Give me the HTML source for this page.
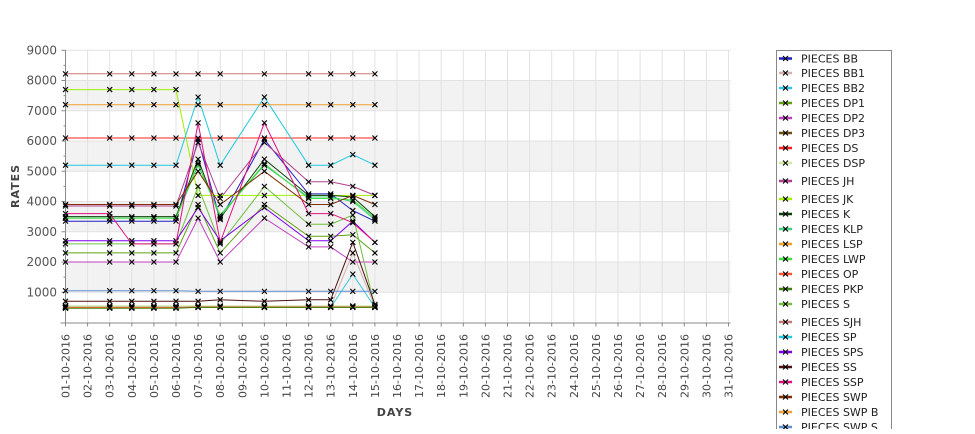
<!DOCTYPE html>
<html><head><meta charset="utf-8"><style>
body{margin:0;background:#fff;width:975px;height:429px;overflow:hidden;font-family:"Liberation Sans","DejaVu Sans",sans-serif}
svg text{font-family:"DejaVu Sans","Liberation Sans",sans-serif}
</style></head><body>
<svg id="chart" width="975" height="429" viewBox="0 0 975 429" xmlns="http://www.w3.org/2000/svg">
<g id="bands"></g><g id="grid"></g><g id="axes"></g><g id="series"></g><g id="legend"></g>
</svg>
<script>
const categories = ["01-10-2016","02-10-2016","03-10-2016","04-10-2016","05-10-2016","06-10-2016","07-10-2016","08-10-2016","09-10-2016","10-10-2016","11-10-2016","12-10-2016","13-10-2016","14-10-2016","15-10-2016","16-10-2016","17-10-2016","18-10-2016","19-10-2016","20-10-2016","21-10-2016","22-10-2016","23-10-2016","24-10-2016","25-10-2016","26-10-2016","27-10-2016","28-10-2016","29-10-2016","30-10-2016","31-10-2016"];
const pointDays = [0,2,3,4,5,6,7,9,11,12,13,14];
const yTicks = [1000,2000,3000,4000,5000,6000,7000,8000,9000];
const seriesNames = ["PIECES BB","PIECES BB1","PIECES BB2","PIECES DP1","PIECES DP2","PIECES DP3","PIECES DS","PIECES DSP","PIECES JH","PIECES JK","PIECES K","PIECES KLP","PIECES LSP","PIECES LWP","PIECES OP","PIECES PKP","PIECES S","PIECES SJH","PIECES SP","PIECES SPS","PIECES SS","PIECES SSP","PIECES SWP","PIECES SWP B","PIECES SWP S"];
const seriesColors = ["#2020c0","#d0b0b0","#30c8e0","#60a010","#c040c0","#705010","#ff2020","#d0e8a0","#b04090","#a0f000","#104010","#40d080","#f0a020","#40e040","#ff5030","#408010","#70c040","#c87878","#20c8e0","#8000f0","#501010","#e01080","#803000","#f0a030","#6090d0"];
const vBB  = [3350,3350,3350,3350,3350,6050,3400,6050,4250,4250,3700,3350];
const vBB1 = [520,520,520,520,520,520,520,520,520,520,2300,520];
const vBB2 = [500,500,500,500,500,500,500,500,500,500,1600,500];
const vDP1 = [2300,2300,2300,2300,2300,3900,2300,3900,2850,2850,2900,2300];
const vDP2 = [2000,2000,2000,2000,2000,3450,2000,3450,2500,2500,2000,2000];
const vDP3 = [480,480,480,480,480,520,520,520,520,520,520,520];
const vDS  = [6100,6100,6100,6100,6100,6100,6100,6100,6100,6100,6100,6100];
const vDSP = [550,550,550,550,550,550,550,550,550,550,550,550];
const vJH  = [3850,3850,3850,3850,3850,5950,4100,5950,4650,4650,4500,4200];
const vJK  = [7700,7700,7700,7700,7700,4200,4200,4200,4200,4200,4200,4200];
const vK   = [3500,3500,3500,3500,3500,5400,3450,5400,4200,4200,4150,3500];
const vKLP = [3450,3450,3450,3450,3450,5200,3550,5200,4150,4150,4000,3400];
const vLSP = [500,500,500,500,500,500,500,500,500,500,500,500];
const vLWP = [3450,3450,3450,3450,3450,5250,3500,5250,4100,4100,4050,3450];
const vOP  = [490,490,490,490,490,510,510,510,510,510,510,510];
const vPKP = [470,470,470,470,470,500,500,500,500,500,500,500];
const vS   = [2600,2600,2600,2600,2600,4500,2600,4500,3250,3250,3550,500];
const vSJH = [8220,8220,8220,8220,8220,8220,8220,8220,8220,8220,8220,8220];
const vSP  = [5200,5200,5200,5200,5200,7450,5200,7450,5200,5200,5550,5200];
const vSPS = [2700,2700,2700,2700,2700,3800,2700,3800,2700,2700,3350,2650];
const vSS  = [700,700,700,700,700,700,750,700,750,750,2650,600];
const vSSP = [3600,3600,2600,2600,2600,6600,2650,6600,3600,3600,3300,2650];
const vSWP = [3900,3900,3900,3900,3900,5000,3900,5000,3900,3900,4200,3900];
const vSWPB= [7200,7200,7200,7200,7200,7200,7200,7200,7200,7200,7200,7200];
const vSWPS= [1050,1050,1050,1050,1050,1030,1030,1030,1030,1030,1030,1030];
const seriesValues = [vBB,vBB1,vBB2,vDP1,vDP2,vDP3,vDS,vDSP,vJH,vJK,vK,vKLP,vLSP,vLWP,vOP,vPKP,vS,vSJH,vSP,vSPS,vSS,vSSP,vSWP,vSWPB,vSWPS];

const NS="http://www.w3.org/2000/svg";
const X0=65.5, DX=22.1, Y0=322.5, PER=30.25/1000;
const xs=i=>X0+i*DX, ys=v=>Y0-v*PER;
function mk(tag,parent,attrs){const e=document.createElementNS(NS,tag);for(const k in attrs)e.setAttribute(k,attrs[k]);parent.appendChild(e);return e;}
const bands=document.getElementById('bands'),grid=document.getElementById('grid'),axes=document.getElementById('axes'),ser=document.getElementById('series'),leg=document.getElementById('legend');
const right=xs(30)+2;
[[1000,2000],[3000,4000],[5000,6000],[7000,8000]].forEach(b=>{
  const r=mk('rect',bands,{x:X0,y:ys(b[1]),width:right-X0,height:ys(b[0])-ys(b[1]),fill:'#f2f2f2'});
  
  
});
categories.forEach((c,i)=>{
  const l=mk('line',grid,{x1:xs(i),x2:xs(i),y1:ys(9000),y2:Y0,stroke:'#e2e2e2','stroke-width':1});
  
  
  const t=mk('text',axes,{x:0,y:0,transform:`translate(${xs(i)+4},334) rotate(-90)`,'text-anchor':'end','font-size':'11','fill':'#444'});
  t.textContent=c;
  
  
});
yTicks.forEach(v=>{
  const l=mk('line',grid,{x1:X0,x2:right,y1:ys(v),y2:ys(v),stroke:'#e2e2e2'});
  
  
  mk('line',axes,{x1:X0-4,x2:X0,y1:ys(v),y2:ys(v),stroke:'#888'});
  mk('line',axes,{x1:X0-2,x2:X0,y1:ys(v-500),y2:ys(v-500),stroke:'#888'});
  const t=mk('text',axes,{x:57,y:ys(v)+4,'text-anchor':'end','font-size':'12','fill':'#555'});
  t.textContent=v;
  
  
});
mk('line',axes,{x1:X0,x2:X0,y1:ys(9000),y2:Y0+4,stroke:'#888'});
mk('line',axes,{x1:X0-5,x2:right,y1:Y0+0.5,y2:Y0+0.5,stroke:'#888'});
categories.forEach((c,i)=>mk('line',axes,{x1:xs(i),x2:xs(i),y1:Y0,y2:Y0+4,stroke:'#888'}));
let t=mk('text',axes,{x:0,y:0,transform:'translate(19,186) rotate(-90)','text-anchor':'middle','font-size':'11','font-weight':'bold','fill':'#444','letter-spacing':'1'});
t.textContent='RATES';
t=mk('text',axes,{x:395,y:416,'text-anchor':'middle','font-size':'11','font-weight':'bold','fill':'#444','letter-spacing':'1'});
t.textContent='DAYS';

function cross(p,x,y){
  mk('path',p,{d:`M${x-2.5} ${y-2.5}L${x+2.5} ${y+2.5}M${x-2.5} ${y+2.5}L${x+2.5} ${y-2.5}`,stroke:'#000','stroke-width':1.1,fill:'none'});
}
seriesValues.forEach((vals,s)=>{
  const g=mk('g',ser,{});
  
  
  const pts=vals.map((v,k)=>xs(pointDays[k]).toFixed(1)+','+ys(v).toFixed(1)).join(' ');
  mk('polyline',g,{points:pts,fill:'none',stroke:seriesColors[s],'stroke-width':1});
  vals.forEach((v,k)=>cross(g,xs(pointDays[k]),ys(v)));
});
// legend
const box=mk('rect',leg,{x:776.5,y:50.5,width:115,height:400,fill:'#fff',stroke:'#888'});


const legY=[58.5,73,88,103,118,133,148,163,181,199,214,229,244,259,274,289,304,322,337,352,367,382,397,412,427];
seriesNames.forEach((n,i)=>{
  const g=mk('g',leg,{});
  
  
  const y=legY[i];
  mk('line',g,{x1:779,x2:792,y1:y,y2:y,stroke:seriesColors[i],'stroke-width':2.5});
  cross(g,785.5,y);
  const tx=mk('text',g,{x:801,y:y+4,'font-size':'11','fill':'#222'});
  tx.textContent=n;
});
</script>
</body></html>
